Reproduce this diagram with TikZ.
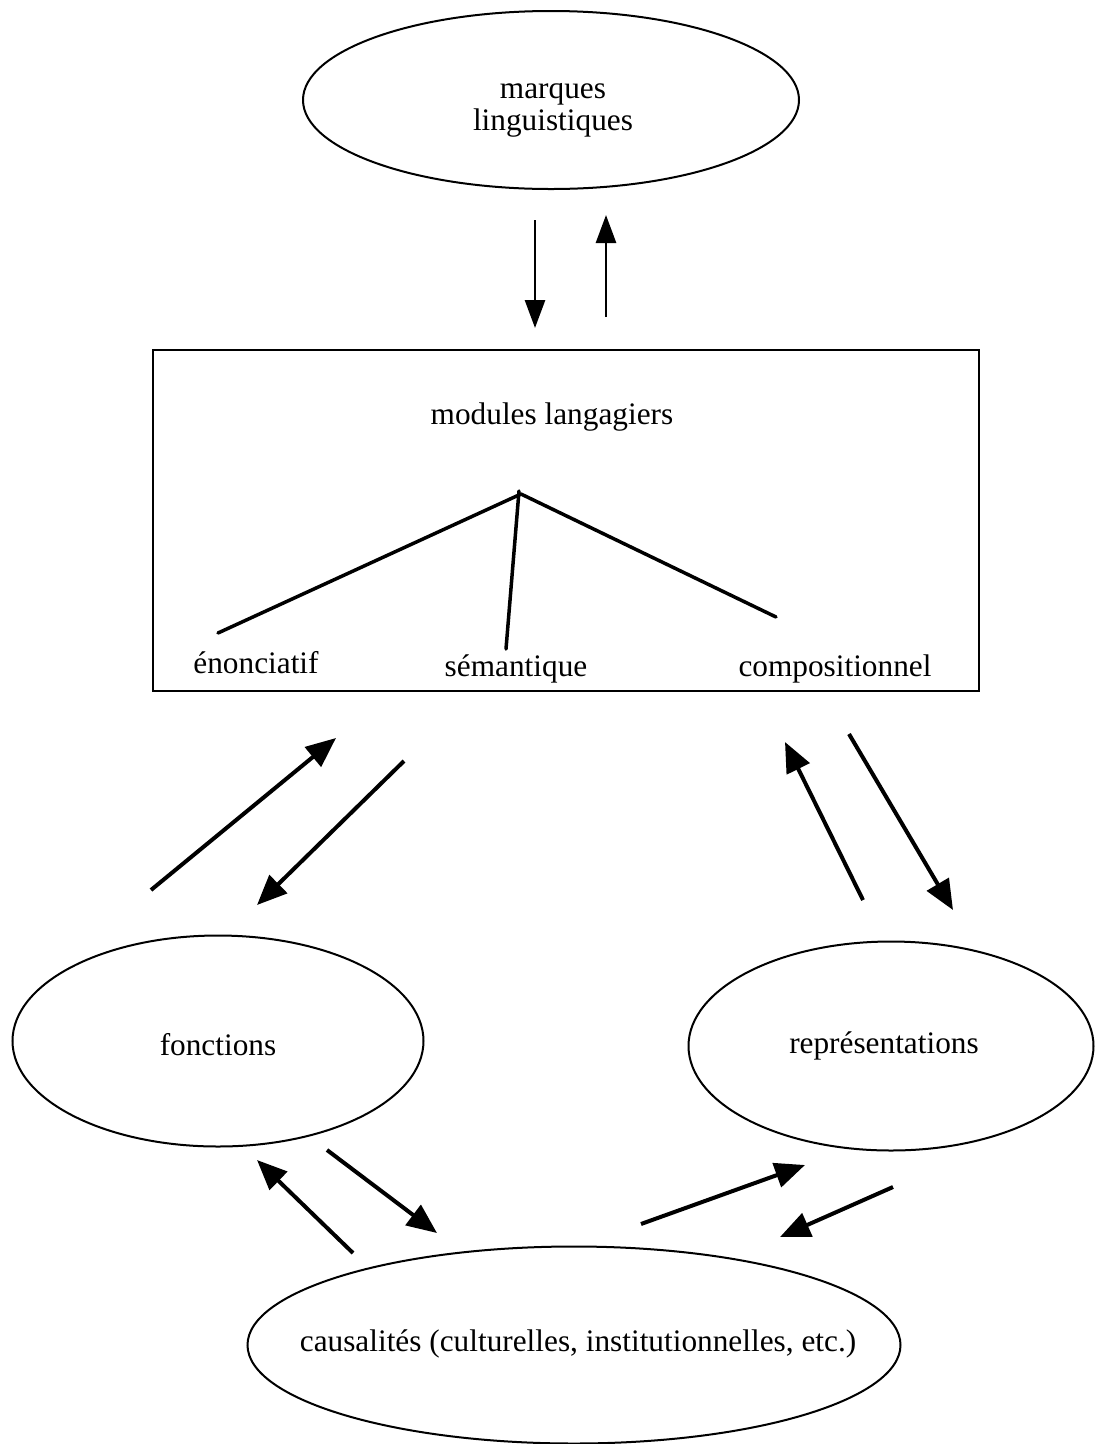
\documentclass[tikz,border=0pt]{standalone}
\usepackage{fontspec}
\setmainfont{Liberation Serif}
\usetikzlibrary{shapes.geometric,arrows.meta}
\begin{document}
\begin{tikzpicture}[x=1pt,y=-1pt,
  lbl/.style={font=\fontsize{31.3}{32}\selectfont, inner sep=0pt, align=center},
  oval/.style={ellipse, draw, line width=2pt, inner sep=0pt},
  arr/.style={line width=4pt, -{Triangle[length=30pt,width=25pt]}},
  thinarr/.style={line width=2.8pt, -{Triangle[length=28pt,width=20pt]}},
  branch/.style={line width=3.5pt, line cap=round}]
\useasboundingbox (0,0) rectangle (1095,1444);

% nodes
\node[oval, minimum width=496pt, minimum height=178pt] (marques) at (551,100) {};
\node[lbl] (marquestxt) at (553,110) {marques\\linguistiques};
\node[draw, line width=2.5pt, minimum width=826pt, minimum height=341pt, inner sep=0pt] (modules) at (566,520.5) {};
\node[lbl] (titre) at (552,417) {modules langagiers};
\node[lbl, anchor=base] (enon) at (256,673) {énonciatif};
\node[lbl, anchor=base] (sem) at (516,676) {sémantique};
\node[lbl, anchor=base] (comp) at (835,676) {compositionnel};
\node[oval, minimum width=411pt, minimum height=211pt] (fonctions) at (218,1041) {};
\node[lbl] (fonctxt) at (218,1045) {fonctions};
\node[oval, minimum width=405pt, minimum height=209pt] (repr) at (891,1046) {};
\node[lbl] (reprtxt) at (884,1046) {représentations};
\node[oval, minimum width=653pt, minimum height=197pt] (caus) at (574,1345) {};
\node[lbl] (caustxt) at (578,1344) {causalités (culturelles, institutionnelles, etc.)};

% tree
\coordinate (apex) at (521,494);
\coordinate (bL) at (218,633);
\coordinate (bM) at (506,649);
\coordinate (bR) at (776,617);
\draw[branch] (apex) -- (bL);
\draw[branch] (apex) -- (bR);
\draw[branch] ([xshift=-2pt,yshift=3pt]apex) -- (bM);

% vertical arrows
\coordinate (v1s) at (535,220); \coordinate (v1e) at (535,328);
\coordinate (v2s) at (606,317); \coordinate (v2e) at (606,215);
\draw[thinarr] (v1s) -- (v1e);
\draw[thinarr] (v2s) -- (v2e);

% diagonal arrows
\coordinate (a3s) at (151,890); \coordinate (a3e) at (336,738);
\coordinate (a4s) at (404,761); \coordinate (a4e) at (257,905);
\coordinate (a5s) at (863,900); \coordinate (a5e) at (785,742);
\coordinate (a6s) at (849,734); \coordinate (a6e) at (953,910);
\coordinate (a7s) at (353,1253); \coordinate (a7e) at (257,1160);
\coordinate (a8s) at (327,1150); \coordinate (a8e) at (437,1233);
\coordinate (a9s) at (641,1224); \coordinate (a9e) at (805,1165);
\coordinate (a10s) at (893,1187); \coordinate (a10e) at (780,1237);
\draw[arr] (a3s) -- (a3e);
\draw[arr] (a4s) -- (a4e);
\draw[arr] (a5s) -- (a5e);
\draw[arr] (a6s) -- (a6e);
\draw[arr] (a7s) -- (a7e);
\draw[arr] (a8s) -- (a8e);
\draw[arr] (a9s) -- (a9e);
\draw[arr] (a10s) -- (a10e);
\end{tikzpicture}
\end{document}
